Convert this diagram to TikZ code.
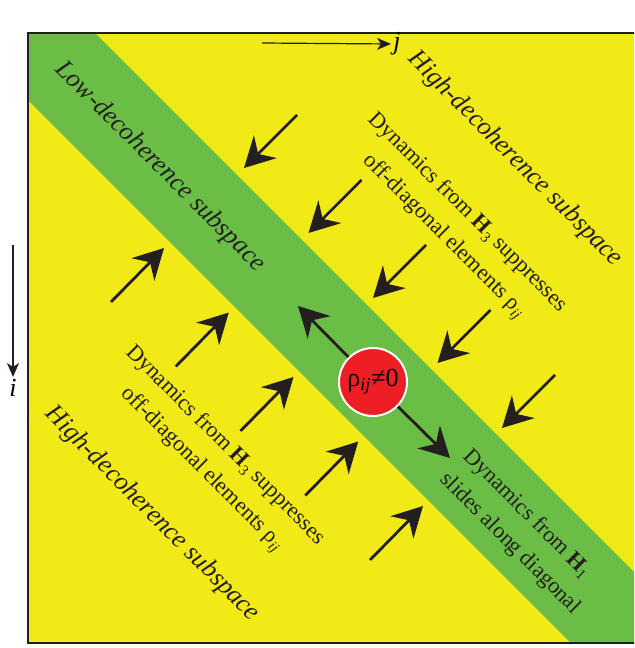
\documentclass[tikz,border=0pt]{standalone}
\usepackage{fontspec}
\setmainfont{Liberation Serif}
\usetikzlibrary{arrows.meta}

\definecolor{ink}{RGB}{35,31,32}
\definecolor{bgyellow}{RGB}{242,234,22}
\definecolor{bandgreen}{RGB}{106,189,69}
\definecolor{rhored}{RGB}{237,30,36}

\newcommand{\lowsub}[1]{\raisebox{-0.45ex}{\fontsize{7.5}{8}\selectfont #1}}

\begin{document}
\begin{tikzpicture}[x=0.5pt, y=-0.5pt, >={Stealth[length=15pt, width=16pt, inset=5pt]},
	push/.style={->, line width=1.4pt, draw=ink},
	axis/.style={-{Stealth[length=7pt, width=6pt, inset=2pt]}, line width=0.6pt, draw=ink},
	subspace/.style={rotate=-45, inner sep=0pt, text=ink, font=\fontsize{13}{15}\selectfont\itshape},
	dyn/.style={rotate=-45, inner sep=0pt, text=ink, align=center, font=\fontsize{11.2}{16.5}\selectfont}]
	\useasboundingbox (0,0) rectangle (634,648);
	\clip (0,0) rectangle (634,648);

	\fill[bgyellow] (28,33) rectangle (641,643);
	\fill[bandgreen] (28,33) -- (95,33) -- (641,579) -- (641,643) -- (571,643) -- (28,100) -- cycle;
	\draw[ink, line width=1.3pt] (28,33) rectangle (641,643);

	\node[subspace]										(low)	at (160,167) {Low-decoherence subspace};
	\node[subspace]										(highU)	at (515,159) {High-decoherence subspace};
	\node[subspace]										(highL)	at (152,514) {High-decoherence subspace};
	\node[dyn]											(dynU)	at (455,225) {Dynamics from \textbf{H}\lowsub{3} suppresses\\off-diagonal elements ρ\lowsub{\textit{ij}}};
	\node[dyn]											(dynL)	at (213,458) {Dynamics from \textbf{H}\lowsub{3} suppresses\\off-diagonal elements ρ\lowsub{\textit{ij}}};
	\node[dyn, align=left]								(dynD)	at (522,532) {Dynamics from \textbf{H}\lowsub{1}\\slides along diagonal};

	\node[circle, fill=rhored, draw=white, line width=1pt, minimum size=34pt, inner sep=0pt,
		font=\fontsize{13}{15}\selectfont]				(rho)	at (373,382) {ρ\textsubscript{\textit{ij}}≠0};
	\coordinate (upleft) at (298,306);
	\coordinate (downright) at (450,458);
	\draw[push] (rho) -- (upleft);
	\draw[push] (rho) -- (downright);

	\foreach \k in {0,...,4} {
		\coordinate (ut\k) at ({297+64.5*\k},{115+65*\k});
		\coordinate (uh\k) at ({244+64.5*\k},{168+65*\k});
		\coordinate (lt\k) at ({111+64.75*\k},{302+64.5*\k});
		\coordinate (lh\k) at ({164+64.75*\k},{248+64.5*\k});
		\draw[push] (ut\k) -- (uh\k);
		\draw[push] (lt\k) -- (lh\k);
	}

	\node[font=\fontsize{13}{15}\selectfont\itshape, inner sep=1pt]	(j)	at (397,44) {j};
	\node[font=\fontsize{13}{15}\selectfont\itshape, inner sep=1pt]	(i)	at (13,388) {i};
	\coordinate (jtail) at (262,43);
	\coordinate (itail) at (13,245);
	\draw[axis] (jtail) -- (j.west);
	\draw[axis] (itail) -- (i.north);
\end{tikzpicture}
\end{document}
